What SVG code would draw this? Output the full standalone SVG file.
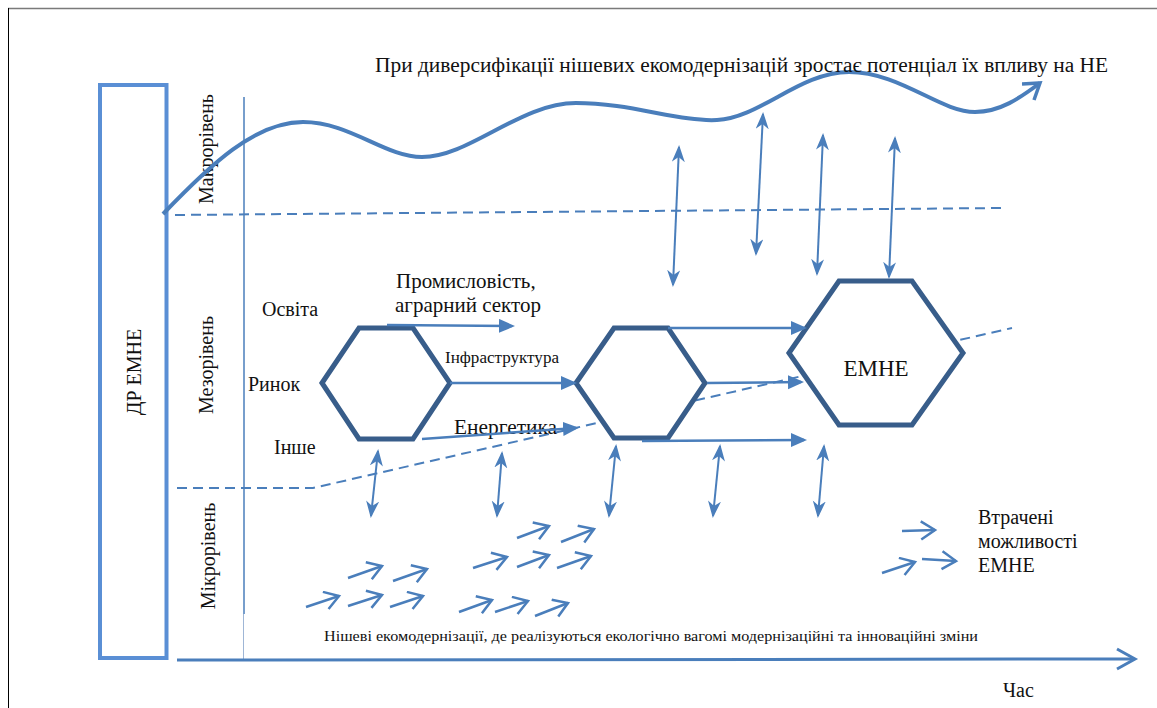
<svg xmlns="http://www.w3.org/2000/svg" width="1157" height="708" viewBox="0 0 1157 708">
  <style>
    .txt { font-family: "Liberation Serif", "Times New Roman", serif; fill: #111; }
    .ln { fill: none; stroke: #4A7EBB; stroke-linecap: butt; }
    .dash { fill: none; stroke: #4A7EBB; stroke-width: 2; stroke-dasharray: 10 6; }
    .hex { fill: #fff; stroke: #385D8A; stroke-width: 5; stroke-linejoin: miter; }
    .harrow { fill: none; stroke: #4A7EBB; stroke-width: 2.5; marker-end: url(#solid); }
    .varrow { fill: none; stroke: #4A7EBB; stroke-width: 2; marker-start: url(#stealth); marker-end: url(#stealth); }
    .chev { fill: none; stroke: #4A7EBB; stroke-width: 2.5; marker-end: url(#open); }
  </style>
  <defs>
    <marker id="solid" markerUnits="userSpaceOnUse" markerWidth="18" markerHeight="16" refX="13" refY="7" orient="auto">
      <path d="M0,0 L16,7 L0,14 z" fill="#4A7EBB"/>
    </marker>
    <marker id="stealth" markerUnits="userSpaceOnUse" markerWidth="18" markerHeight="14" refX="15" refY="6.5" orient="auto-start-reverse">
      <path d="M0,0 L17,6.5 L0,13 L5,6.5 z" fill="#4A7EBB"/>
    </marker>
    <marker id="open" markerUnits="userSpaceOnUse" markerWidth="20" markerHeight="22" refX="16" refY="10" orient="auto">
      <path d="M2,1 L16,10 L2,19" fill="none" stroke="#4A7EBB" stroke-width="2.5"/>
    </marker>
    <marker id="open-wave" markerUnits="userSpaceOnUse" markerWidth="22" markerHeight="24" refX="18" refY="11" orient="auto">
      <path d="M3,1 L18,11 L3,21" fill="none" stroke="#4A7EBB" stroke-width="3.5"/>
    </marker>
  </defs>

  <!-- page frame -->
  <line x1="8" y1="8.5" x2="1157" y2="8.5" stroke="#7a7a7a" stroke-width="1.5"/>
  <line x1="8.5" y1="8" x2="8.5" y2="708" stroke="#000" stroke-width="1"/>

  <!-- left strip -->
  <g id="dr-emne">
    <rect x="100" y="85" width="66.5" height="573" fill="none" stroke="#5A8FD5" stroke-width="4"/>
    <text class="txt" font-size="20" text-anchor="middle" transform="translate(141,372) rotate(-90)">ДР ЕМНЕ</text>
  </g>

  <!-- level labels -->
  <g id="levels">
    <line x1="244" y1="97" x2="244" y2="614" stroke="#4A7EBB" stroke-width="1.5"/>
    <line x1="243.5" y1="614" x2="243.5" y2="659" stroke="#9fb6d6" stroke-width="1"/>
    <text class="txt" font-size="20" text-anchor="middle" transform="translate(213,149) rotate(-90)">Макрорівень</text>
    <text class="txt" font-size="20" text-anchor="middle" transform="translate(213,365) rotate(-90)">Мезорівень</text>
    <text class="txt" font-size="20" text-anchor="middle" transform="translate(215,556) rotate(-90)">Мікрорівень</text>
  </g>

  <!-- level boundaries -->
  <g id="boundaries">
    <line class="dash" x1="175" y1="215" x2="1003" y2="208"/>
    <path class="dash" d="M177,488 L313,488 L1012,328"/>
  </g>

  <!-- macro trend wave -->
  <g id="wave">
    <path class="ln" stroke-width="4" marker-end="url(#open-wave)"
      d="M163,214 C210,165 255,122 303,122 C350,122 385,157 422,157 C470,157 520,103 576,103 C630,103 680,122 717,120 C760,118 800,72 849,72 C900,72 940,112 975,112 C1000,112 1020,98 1040,83"/>
    <text class="txt" x="375" y="72" font-size="20" textLength="733" lengthAdjust="spacingAndGlyphs">При диверсифікації нішевих екомодернізацій зростає потенціал їх впливу на НЕ</text>
  </g>

  <!-- hexagon nodes -->
  <g id="hex-1">
    <polygon class="hex" points="322,383 359,328 413,328 450,383 413,439 359,439"/>
  </g>
  <g id="hex-2">
    <polygon class="hex" points="576,383 614,328 668,328 705,383 668,438 614,438"/>
  </g>
  <g id="hex-emne">
    <polygon class="hex" stroke-width="5.5" points="789,353 839,281 912,281 963,353 912,425 839,425"/>
    <text class="txt" x="876" y="376" font-size="23" text-anchor="middle">ЕМНЕ</text>
  </g>

  <!-- sector labels -->
  <g id="sectors">
    <text class="txt" x="262" y="316" font-size="20">Освіта</text>
    <text class="txt" x="248" y="391" font-size="20">Ринок</text>
    <text class="txt" x="274" y="454" font-size="20">Інше</text>
    <text class="txt" x="396" y="288" font-size="21">Промисловість,</text>
    <text class="txt" x="395" y="312" font-size="21">аграрний сектор</text>
    <text class="txt" x="445" y="363" font-size="16" textLength="114" lengthAdjust="spacingAndGlyphs">Інфраструктура</text>
    <text class="txt" x="454" y="434" font-size="20" textLength="103" lengthAdjust="spacingAndGlyphs">Енергетика</text>
  </g>

  <!-- connectors -->
  <g id="connectors">
    <!-- flows between hexagons -->
    <line class="harrow" x1="387" y1="325" x2="512" y2="326"/>
    <line class="harrow" x1="450" y1="383" x2="574" y2="383"/>
    <line class="harrow" x1="422" y1="439" x2="576" y2="428"/>
    <line class="harrow" x1="668" y1="328" x2="804" y2="328"/>
    <line class="harrow" x1="707" y1="383" x2="801" y2="382"/>
    <line class="harrow" x1="642" y1="441" x2="804" y2="440"/>

    <!-- macro links -->
    <line class="varrow" x1="679" y1="147" x2="673" y2="285"/>
    <line class="varrow" x1="763" y1="114" x2="756" y2="254"/>
    <line class="varrow" x1="823" y1="135" x2="817" y2="274"/>
    <line class="varrow" x1="895" y1="138" x2="889" y2="277"/>

    <!-- micro links -->
    <line class="varrow" x1="378" y1="451" x2="371" y2="516"/>
    <line class="varrow" x1="502" y1="453" x2="497" y2="516"/>
    <line class="varrow" x1="616" y1="446" x2="609" y2="516"/>
    <line class="varrow" x1="720" y1="446" x2="713" y2="516"/>
    <line class="varrow" x1="824" y1="446" x2="818" y2="516"/>

    <!-- niche eco-modernisations -->
    <line class="chev" x1="348" y1="578" x2="382" y2="566"/>
    <line class="chev" x1="393" y1="581" x2="427" y2="569"/>
    <line class="chev" x1="306" y1="607" x2="339" y2="596"/>
    <line class="chev" x1="348" y1="606" x2="382" y2="595"/>
    <line class="chev" x1="390" y1="607" x2="423" y2="596"/>
    <line class="chev" x1="517" y1="538" x2="549" y2="526"/>
    <line class="chev" x1="561" y1="542" x2="594" y2="529"/>
    <line class="chev" x1="473" y1="568" x2="507" y2="557"/>
    <line class="chev" x1="517" y1="567" x2="549" y2="555"/>
    <line class="chev" x1="557" y1="568" x2="591" y2="556"/>
    <line class="chev" x1="459" y1="612" x2="492" y2="600"/>
    <line class="chev" x1="495" y1="612" x2="528" y2="601"/>
    <line class="chev" x1="535" y1="616" x2="568" y2="603"/>

    <!-- lost opportunities -->
    <line class="chev" x1="902" y1="531" x2="935" y2="530"/>
    <line class="chev" x1="922" y1="559" x2="956" y2="561"/>
    <line class="chev" x1="882" y1="573" x2="915" y2="562"/>

    <!-- time axis -->
    <line x1="177" y1="660" x2="1134" y2="659" stroke="#4A7EBB" stroke-width="3"/>
    <path d="M1117,649 L1135,659 L1117,669" fill="none" stroke="#4A7EBB" stroke-width="3"/>
  </g>

  <g id="legend">
    <text class="txt" x="978" y="524" font-size="20">Втрачені</text>
    <text class="txt" x="978" y="548" font-size="20">можливості</text>
    <text class="txt" x="978" y="572" font-size="20">ЕМНЕ</text>
  </g>

  <g id="axis-labels">
    <text class="txt" x="324" y="641" font-size="15" textLength="654" lengthAdjust="spacingAndGlyphs">Нішеві екомодернізації, де реалізуються екологічно вагомі модернізаційні та інноваційні зміни</text>
    <text class="txt" x="1003" y="697" font-size="20">Час</text>
  </g>
</svg>
